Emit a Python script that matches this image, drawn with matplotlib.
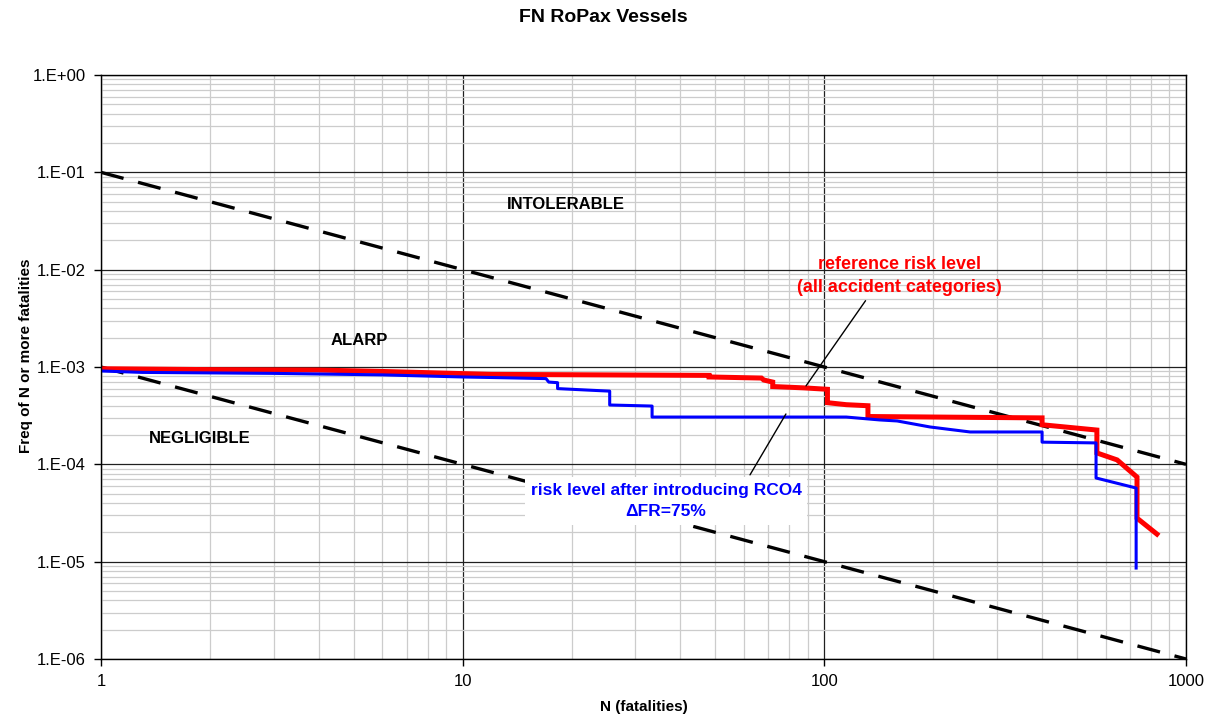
import matplotlib
matplotlib.use('Agg')
import matplotlib.pyplot as plt
from matplotlib.ticker import LogLocator, NullFormatter

plt.rcParams['font.family'] = ['Liberation Sans', 'DejaVu Sans']

# reference risk level (all accident categories)
ref_n = [1, 2, 4, 6, 12, 48, 48, 67, 68, 72, 72, 88, 102, 102, 115, 132, 132,
         400, 400, 567, 567, 645, 732, 732, 831]
ref_f = [9.6e-4, 9.4e-4, 9.3e-4, 9.0e-4, 8.4e-4, 8.2e-4, 7.9e-4, 7.7e-4, 7.35e-4,
         7.0e-4, 6.3e-4, 6.1e-4, 5.9e-4, 4.3e-4, 4.1e-4, 4.0e-4, 3.1e-4,
         3.0e-4, 2.55e-4, 2.25e-4, 1.31e-4, 1.11e-4, 7.4e-5, 2.8e-5, 1.92e-5]

# risk level after introducing RCO4
rco_n = [1, 1.3, 3, 6, 10, 12, 17, 17.3, 18.3, 18.3, 22, 25.5, 25.5, 33.4, 33.4,
         115, 142, 159, 196, 253, 400, 400, 564, 564, 728, 728]
rco_f = [9.1e-4, 8.8e-4, 8.6e-4, 8.3e-4, 7.9e-4, 7.8e-4, 7.6e-4, 7.0e-4, 6.9e-4,
         6.0e-4, 5.8e-4, 5.65e-4, 4.07e-4, 3.97e-4, 3.06e-4, 3.06e-4, 2.86e-4,
         2.79e-4, 2.42e-4, 2.15e-4, 2.15e-4, 1.69e-4, 1.66e-4, 7.24e-5, 5.71e-5, 8.6e-6]

# ALARP boundaries
limit_n = [1, 1000]
upper_f = [1e-1, 1e-4]
lower_f = [1e-3, 1e-6]

x_ticks = [1, 10, 100, 1000]
x_labels = ['1', '10', '100', '1000']
y_ticks = [1e0, 1e-1, 1e-2, 1e-3, 1e-4, 1e-5, 1e-6]
y_labels = ['1.E+00', '1.E-01', '1.E-02', '1.E-03', '1.E-04', '1.E-05', '1.E-06']

fig = plt.figure(figsize=(12.14, 7.27), dpi=100)
ax = fig.add_axes([101 / 1214, 1 - 659 / 727, 1085 / 1214, 584 / 727])
ax.set_xscale('log')
ax.set_yscale('log')
ax.set_xlim(1, 1000)
ax.set_ylim(1e-6, 1)

ax.xaxis.set_minor_locator(LogLocator(base=10, subs=range(2, 10)))
ax.yaxis.set_minor_locator(LogLocator(base=10, subs=range(2, 10)))
ax.xaxis.set_minor_formatter(NullFormatter())
ax.yaxis.set_minor_formatter(NullFormatter())
ax.set_xticks(x_ticks)
ax.set_xticklabels(x_labels)
ax.set_yticks(y_ticks)
ax.set_yticklabels(y_labels)

ax.grid(True, which='minor', color='#cccccc', linewidth=0.9)
ax.grid(True, which='major', color='#202020', linewidth=0.9)
ax.set_axisbelow(True)
ax.tick_params(which='major', direction='out', length=5, width=1, labelsize=12, pad=6)
ax.tick_params(which='minor', length=0)
for s in ax.spines.values():
    s.set_color('black')
    s.set_linewidth(1)

ax.plot(limit_n, upper_f, color='black', linewidth=2.4, dashes=(7, 4.5))
ax.plot(limit_n, lower_f, color='black', linewidth=2.4, dashes=(7, 4.5))
ax.plot(ref_n, ref_f, color='#ff0000', linewidth=3.6, solid_joinstyle='miter')
ax.plot(rco_n, rco_f, color='#0000ff', linewidth=2.2)

ax.text(19.3, 0.047, 'INTOLERABLE', fontsize=12, fontweight='bold', ha='center', va='center')
ax.text(5.17, 1.85e-3, 'ALARP', fontsize=12, fontweight='bold', ha='center', va='center')
ax.text(1.88, 1.86e-4, 'NEGLIGIBLE', fontsize=12, fontweight='bold', ha='center', va='center')

ax.annotate('', xy=(89, 6.4e-4), xytext=(130, 4.8e-3),
            arrowprops=dict(arrowstyle='-', color='black', linewidth=1, shrinkA=0, shrinkB=0))
ax.annotate('', xy=(78.3, 3.29e-4), xytext=(62.3, 7.8e-5),
            arrowprops=dict(arrowstyle='-', color='black', linewidth=1, shrinkA=0, shrinkB=0))

ax.text(161, 8.6e-3, 'reference risk level\n(all accident categories)', color='#ff0000',
        fontsize=13, fontweight='bold', ha='center', va='center', linespacing=1.45)
ax.text(36.5, 4.2e-5, 'risk level after introducing RCO4\n\u0394FR=75%', color='#0000ff',
        fontsize=12.5, fontweight='bold', ha='center', va='center', linespacing=1.55,
        bbox=dict(facecolor='white', edgecolor='none', pad=4))

fig.text(603 / 1214, 1 - 18 / 727, 'FN RoPax Vessels', fontsize=14, fontweight='bold',
         ha='center', va='center')
ax.set_xlabel('N (fatalities)', fontsize=11, fontweight='bold', labelpad=8)
ax.set_ylabel('Freq of N or more fatalities', fontsize=11, fontweight='bold')
ax.yaxis.set_label_coords(-0.063, 0.519)

fig.savefig('out.png', dpi=100)
